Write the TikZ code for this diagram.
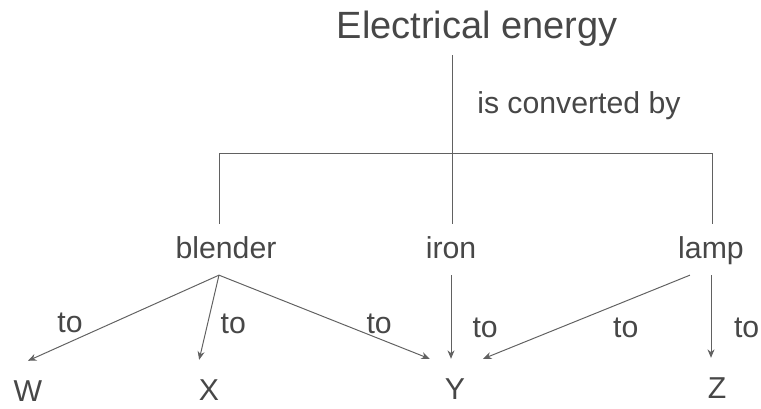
\documentclass[tikz,border=0pt]{standalone}
\usepackage{fontspec}
\setmainfont{Liberation Sans}
\usetikzlibrary{arrows.meta}

\begin{document}
\begin{tikzpicture}[x=0.025cm, y=-0.025cm,
  title/.style={font=\fontsize{27}{30}\selectfont, text=black!72, text depth=6pt, inner sep=6pt},
  lbl/.style={font=\fontsize{21.5}{24}\selectfont, text=black!72, text height=16pt, text depth=4pt, inner xsep=2pt, inner ysep=8pt},
  leaf/.style={lbl, inner ysep=12.4pt},
  tolbl/.style={font=\fontsize{21.5}{24}\selectfont, text=black!72, inner sep=0pt},
  branch/.style={black!62, line width=0.7pt},
  arrow/.style={branch, -{Stealth[length=6pt, width=5pt]}}
]
\useasboundingbox (0,0) rectangle (761,408);

\node[title, anchor=base] (energy) at (477,38) {Electrical energy};
\node[tolbl, anchor=base west] (conv) at (477,113) {is converted by};

\node[lbl, anchor=base] (blender) at (226,258) {blender};
\node[lbl, anchor=base] (iron) at (451,258) {iron};
\node[lbl, anchor=base] (lamp) at (711,258) {lamp};

\node[leaf, anchor=base] (w) at (28,401) {W};
\node[leaf, anchor=base] (x) at (209,400) {X};
\node[leaf, anchor=base] (y) at (455,399) {Y};
\node[leaf, anchor=base] (z) at (717,398) {Z};

\coordinate (split) at (452,153);
\coordinate (barL) at (219,153);
\coordinate (barR) at (712,153);

\draw[branch] (energy.south -| split) -- (split |- iron.north);
\draw[branch] (barL) -- (barR);
\draw[branch] (barL) -- (barL |- blender.north);
\draw[branch] (barR) -- (barR |- lamp.north);

\draw[arrow] ([xshift=-5pt]blender.south) -- node[tolbl, pos=0.78, anchor=base, yshift=6.4pt] {to} (w.north);
\draw[arrow] ([xshift=-5pt]blender.south) -- node[tolbl, pos=0.69, anchor=base west, xshift=10.6pt] {to} ([xshift=-7pt]x.north);
\draw[arrow] ([xshift=-5pt]blender.south) -- node[tolbl, pos=0.76, anchor=base, yshift=3.5pt] {to} ([xshift=-18pt]y.north);
\draw[arrow] (iron.south) -- node[tolbl, pos=0.75, anchor=base west, xshift=15pt] {to} (iron.south |- y.north);
\draw[arrow] ([xshift=-15pt]lamp.south) -- node[tolbl, pos=0.31, anchor=base, yshift=-26pt] {to} ([xshift=20pt]y.north);
\draw[arrow] (lamp.south) -- node[tolbl, pos=0.76, anchor=base west, xshift=16pt] {to} (lamp.south |- z.north);
\end{tikzpicture}
\end{document}
